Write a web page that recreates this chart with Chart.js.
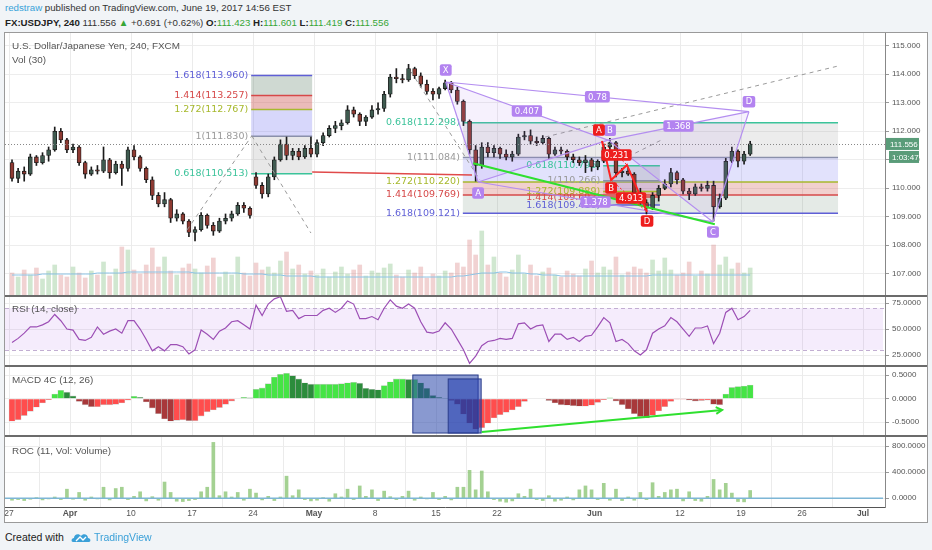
<!DOCTYPE html>
<html><head><meta charset="utf-8">
<script src="https://cdn.jsdelivr.net/npm/chart.js@4.4.1/dist/chart.umd.min.js"></script>
<style>
html,body{margin:0;padding:0;}
body{width:932px;height:550px;background:#f1f4f7;position:relative;overflow:hidden;font-family:"Liberation Sans",Arial,sans-serif;}
.hd{position:absolute;left:5px;white-space:nowrap;font-size:9.7px;color:#333;line-height:12px;}
#h1{top:2px;}
#h2{top:17px;}
#h2 b{font-weight:bold;color:#222;}
.g{color:#37a636;}
#frame{position:absolute;left:4px;top:32px;width:922px;height:489px;border:1px solid #9a9a9a;background:#fff;}
canvas{position:absolute;left:5px;}
.sep{position:absolute;left:5px;width:922px;height:2px;background:#6b6b6b;}
.ttl{position:absolute;left:12px;font-size:9.9px;color:#555;white-space:nowrap;line-height:11px;}
#foot{position:absolute;left:5px;top:531px;font-size:10.5px;color:#222;white-space:nowrap;line-height:12px;}
#foot .tv{color:#3ba0d8;}
</style>
</head><body>
<div id="h1" class="hd"><span style="color:#38a2d9">redstraw</span> published on TradingView.com, June 19, 2017 14:56 EST</div>
<div id="h2" class="hd"><b>FX:USDJPY, 240</b> 111.556 <span class="g">&#9650;</span> +0.691 (+0.62%) <b>O:</b><span class="g">111.423</span> <b>H:</b><span class="g">111.601</span> <b>L:</b><span class="g">111.419</span> <b>C:</b><span class="g">111.556</span></div>
<div id="frame"></div>
<canvas id="cMain" width="922" height="262" style="top:33px;width:922px;height:262px"></canvas>
<div class="sep" style="top:295px"></div>
<canvas id="cRsi" width="922" height="68" style="top:297px;width:922px;height:68px"></canvas>
<div class="sep" style="top:365px"></div>
<canvas id="cMacd" width="922" height="68" style="top:367px;width:922px;height:68px"></canvas>
<div class="sep" style="top:435px"></div>
<canvas id="cRoc" width="922" height="85" style="top:437px;width:922px;height:85px"></canvas>
<div class="ttl" style="top:40px">U.S. Dollar/Japanese Yen, 240, FXCM</div>
<div class="ttl" style="top:54px">Vol (30)</div>
<div class="ttl" style="top:303px">RSI (14, close)</div>
<div class="ttl" style="top:374px">MACD 4C (12, 26)</div>
<div class="ttl" style="top:445px">ROC (11, Vol: Volume)</div>
<div id="foot">Created with <svg width="20" height="12" viewBox="0 0 20 12" style="vertical-align:-2px;margin:0 3px 0 4px"><path d="M2 11 C0 11 0 7 3 7 C3 3 8 2 10 5 C12 2 17 3 17 7 C20 7 20 11 18 11 Z" fill="#3ba0d8"/><path d="M5 10 L9 6 L12 9 L15 6" stroke="#fff" stroke-width="1.3" fill="none"/></svg><span class="tv">TradingView</span></div>
<script>
// ---------- DATA (half-day candles, slot index from Mon 27 Mar 2017) ----------
const opens  = [110.9,110.35,110.6,110.5,111.1,110.9,111.15,111.35,112.0,111.7,
111.35,111.45,110.9,110.5,110.65,110.6,111.0,110.55,110.85,110.7,
111.35,111.1,110.7,110.3,109.75,109.45,109.6,108.95,109.1,108.85,
108.45,108.55,109.05,108.7,108.5,108.85,108.95,109.1,109.4,109.3,
110.4,110.1,109.8,110.4,111.0,111.55,111.15,111.3,111.1,111.4,
111.2,111.6,111.85,112.1,112.2,112.3,112.75,112.6,112.35,112.5,
112.75,112.8,113.3,113.9,113.85,113.8,114.2,113.95,113.65,113.4,
113.3,113.5,113.7,113.45,113.05,112.35,111.35,110.8,111.45,111.25,
111.4,111.2,111.1,111.2,111.8,111.85,111.65,111.6,111.75,111.2,
111.35,111.3,111.1,111.0,110.9,111.0,110.75,110.95,111.45,111.6,
110.55,110.6,110.5,109.85,109.5,109.3,109.75,110.0,110.15,110.55,
110.3,109.9,109.8,110.05,110.0,110.1,109.35,109.65,110.95,111.3,
110.95,111.2];
const highs  = [111.0,110.7,110.75,111.2,111.15,111.25,111.45,112.15,112.1,111.75,
111.55,111.5,110.95,110.75,110.8,111.45,111.05,110.95,110.95,111.45,
111.5,111.15,110.75,110.4,109.85,109.85,109.65,109.25,109.15,108.9,
108.65,109.15,109.1,108.8,108.95,109.1,109.2,109.5,109.5,109.35,
110.55,110.2,110.5,111.1,111.7,111.8,111.4,111.4,111.5,111.8,
111.7,111.95,112.2,112.35,112.4,112.9,112.85,112.65,112.55,112.9,
113.0,113.4,114.0,114.2,114.0,114.35,114.25,114.05,113.8,113.5,
113.55,113.8,113.75,113.55,113.1,112.4,111.5,111.6,111.6,111.5,
111.45,111.35,111.3,111.9,112.0,112.05,111.8,111.85,111.8,111.45,
111.45,111.35,111.2,111.1,111.15,111.05,111.0,111.55,111.75,111.65,
110.7,110.7,110.55,110.0,109.6,109.85,110.1,110.3,110.7,110.6,
110.35,110.0,110.15,110.15,110.25,110.25,109.8,111.05,111.45,111.35,
111.3,111.65];
const lows   = [110.25,110.2,110.25,110.45,110.8,110.85,110.95,111.3,111.6,111.25,
111.25,110.8,110.35,110.45,110.5,110.55,110.35,110.5,110.1,110.6,
111.0,110.6,110.2,109.6,109.35,109.35,108.8,108.85,108.75,108.3,
108.15,108.5,108.6,108.35,108.45,108.75,108.85,109.05,109.15,108.95,
110.0,109.65,109.7,110.3,110.95,111.0,111.0,111.0,111.05,111.1,
111.1,111.5,111.8,111.95,112.05,112.25,112.5,112.2,112.2,112.45,
112.6,112.7,113.2,113.7,113.7,113.75,113.85,113.55,113.3,113.1,
113.15,113.45,113.35,112.95,112.2,111.2,110.25,110.7,111.1,111.1,
111.05,111.0,110.95,111.15,111.7,111.55,111.5,111.55,111.05,111.15,
111.2,111.0,110.9,110.8,110.55,110.6,110.65,110.9,111.35,110.4,
110.4,110.45,109.7,109.4,109.1,109.25,109.55,109.95,110.05,110.15,
109.8,109.6,109.75,109.9,109.9,108.85,109.3,109.6,110.9,110.75,
110.85,111.15];
const closes = [110.35,110.6,110.5,111.1,110.9,111.15,111.35,112.0,111.7,111.35,
111.45,110.9,110.5,110.65,110.6,111.0,110.55,110.85,110.7,111.35,
111.1,110.7,110.3,109.75,109.45,109.6,108.95,109.1,108.85,108.45,
108.55,109.05,108.7,108.5,108.85,108.95,109.1,109.4,109.3,109.05,
110.1,109.8,110.4,111.0,111.55,111.15,111.3,111.1,111.4,111.2,
111.6,111.85,112.1,112.2,112.3,112.75,112.6,112.35,112.5,112.75,
112.8,113.3,113.9,113.85,113.8,114.2,113.95,113.65,113.4,113.3,
113.5,113.7,113.45,113.05,112.35,111.35,110.8,111.45,111.25,111.4,
111.2,111.1,111.2,111.8,111.85,111.65,111.6,111.75,111.2,111.35,
111.3,111.1,111.0,110.9,111.0,110.75,110.95,111.45,111.6,110.55,
110.6,110.5,109.85,109.5,109.3,109.75,110.0,110.15,110.55,110.3,
109.9,109.8,110.05,110.0,110.1,109.35,109.65,110.95,111.3,110.95,
111.2,111.556];
const volumes = [22,18,25,20,27,16,24,30,20,18, 28,22,17,24,20,33,19,26,48,45,
25,21,30,47,28,38,24,20,27,31, 26,22,29,37,18,23,20,38,22,19,
32,25,28,22,34,43,26,30,21,24, 20,26,18,23,28,21,25,30,19,24,
22,27,31,20,18,25,22,28,17,21, 19,24,22,32,28,55,40,64,30,38,
22,18,25,40,21,30,19,23,27,20, 18,24,21,19,26,34,22,28,25,38,
20,23,28,26,22,35,24,37,25,20, 22,33,19,24,21,50,30,38,26,32, 22,27];
const volMA = [20,20,20,20,20,21,21,21,21,21, 21,21,21,21,22,22,22,22,22,23,
23,23,23,23,23,23,23,23,23,23, 22,22,22,22,22,22,22,22,21,21,
21,21,20,20,20,19,19,19,19,19, 18,18,18,18,18,18,18,18,18,18,
18,18,18,18,18,18,18,18,18,18, 18,18,18,19,19,20,21,22,22,22,
23,23,22,22,22,21,21,20,20,20, 19,19,19,19,19,19,19,19,19,19,
19,19,19,19,19,20,20,20,20,20, 20,20,20,20,20,20,20,20,20,20, 20,20];
const rsi = [37,41,46,52,52,54,57,64,58,50, 49,40,39,42,52,45,48,50,46,58,
58,50,40,29,33,29,35,35,33,26, 30,49,45,40,48,51,57,58,54,50,
73,63,74,79,81,67,68,60,63,63, 63,68,70,66,70,77,74,60,60,62,
59,70,78,72,70,74,70,57,47,46, 48,56,50,40,30,17,24,34,38,39,
41,40,41,55,56,50,53,54,38,45, 45,40,42,38,43,44,52,61,56,38,
40,36,29,25,30,46,50,53,61,57, 50,43,51,51,53,36,46,66,70,59, 62,68];
const macdHist = [-0.48,-0.45,-0.36,-0.27,-0.18,-0.09,-0.02,0.10,0.18,0.14,
0.06,-0.06,-0.13,-0.17,-0.17,-0.13,-0.13,-0.12,-0.09,-0.03,
0.05,0.03,-0.07,-0.20,-0.32,-0.43,-0.48,-0.46,-0.45,-0.47,
-0.47,-0.37,-0.28,-0.24,-0.19,-0.12,-0.05,0.0,0.03,0.02,
0.20,0.23,0.32,0.46,0.52,0.54,0.49,0.42,0.34,0.31,
0.31,0.31,0.31,0.31,0.32,0.34,0.35,0.33,0.22,0.20,
0.19,0.28,0.36,0.42,0.42,0.41,0.41,0.34,0.22,0.07,
0.03,0.01,-0.04,-0.12,-0.33,-0.52,-0.65,-0.62,-0.52,-0.41,
-0.34,-0.29,-0.24,-0.17,-0.06,0.0,0.0,0.0,-0.04,-0.09,
-0.13,-0.14,-0.15,-0.16,-0.16,-0.14,-0.08,-0.02,0.02,-0.05,
-0.13,-0.22,-0.32,-0.38,-0.41,-0.35,-0.26,-0.17,-0.06,-0.01,
-0.01,-0.03,-0.05,-0.04,-0.03,-0.12,-0.13,0.10,0.24,0.26, 0.27,0.29];
const rocVol = [-30,-20,-35,-15,10,-25,-10,20,-20,140, -15,90,-30,20,-10,170,-25,150,170,-20,
30,100,-40,25,-30,250,90,-45,-50,-35, -20,100,170,860,40,100,20,90,-30,140,
80,-25,30,-35,20,340,40,130,-20,-40, -30,10,-45,70,20,140,-20,190,30,130,
-35,110,25,-20,30,110,-30,20,-10,90, -20,30,-25,170,170,430,130,420,100,-20,
-45,-60,-40,70,30,140,-20,-35,40,-45, -30,20,-25,130,190,130,-20,230,-30,140,
-35,20,-30,90,-20,240,30,90,130,140, -40,100,-35,-45,30,290,130,230,80,-50, -55,120];
const lastPrice = 111.556;
const countdown = '1:03:47';

// time axis (slot units; 2 slots per trading day)
const timeTickValues = [0,10,20,30,40,50,60,70,80,96,110,120,130,140];
const timeTickLabels = ['27','Apr','10','17','24','May','8','15','22','Jun','12','19','26','Jul'];
const monthTickIdx = [1,5,9,13];
const priceTicks = [107,108,109,110,111,112,113,114,115];
const rsiTicks = [25,50,75];
const macdTicks = [-0.5,0,0.5];
const rocTicks = [0,400,800];

// drawings (time in slot units, price in JPY); level order follows fibRatios
const fibRatios = ['1.618','1.414','1.272','1','0.618'];
const fibLeftSpan = [39.7,49.7];
const fibLeftLevels = [113.960,113.257,112.767,111.830,110.513];
const fibMidSpan = [74.4,135.9];
const fibMidLevels = [109.121,109.769,110.220,111.084,112.298];
const fibSmallSpan = [97.4,106.7];
const fibSmallLevels = [109.410,109.693,109.889,110.266,110.795];
const redLineTime = [49.7,75.9], redLinePrice = [110.57,110.47];
const dashedTimes = [[29.2,39.8],[39.8,49.5],[65.9,77.2],[87.9,135.9],[101.5,107.0]];
const dashedPrices = [[108.54,111.84],[111.84,108.43],[114.09,110.29],[111.80,114.29],[111.11,111.70]];
const greenTime = [76.1,115.7], greenPrice = [110.88,108.74];
const xabcdNames = ['X','A','B','C','D'];
const xabcdTime = [71.6,76.9,98.2,115.4,121.3];
const xabcdPrice = [113.73,110.22,111.69,108.82,112.69];
const xabcdRatios = ['0.407','0.78','1.368','1.378']; // XB, XD, BD, AC
const abcdNames = ['A','B','C','D'];
const abcdTime = [97.2,98.7,101.3,104.6];
const abcdPrice = [111.66,110.29,110.82,109.17];
const abcdRatios = ['0.231','4.913']; // AC, BD
const macdArrowTime = [77.5,116.9], macdArrowValue = [-0.708,-0.24];
const macdBoxTimes = [[66.2,76.9],[72.0,77.4]];
const macdBoxValues = [[0.504,-0.73],[0.42,-0.73]];

// ---------- RENDERING ----------
const F = '"Liberation Sans", Arial, sans-serif';
const FD = '"DejaVu Sans", sans-serif';
const XMIN = -0.65, XMAX = 143.6;
const xs = closes.map((_, i) => i + 0.5);
const up = closes.map((c, i) => c >= opens[i]);

function baseOpts(){ return {responsive:false, animation:false, events:[], layout:{padding:0},
  plugins:{legend:{display:false}, tooltip:{enabled:false}}}; }
function xHidden(){ return {type:'linear', min:XMIN, max:XMAX, offset:false, display:false}; }
function yAxis(min, max, ticks, dec){
  return {position:'right', min, max,
    afterBuildTicks: s => { s.ticks = ticks.map(v => ({value:v})); },
    ticks:{callback: v => Number(v).toFixed(dec), color:'#555', font:{size:8, family:F}, padding:3},
    grid:{color:'#ededed', tickColor:'#999', tickLength:4},
    border:{color:'#888'},
    afterFit: s => { s.width = 42; s.paddingTop = 0; s.paddingBottom = 0; }};
}
const vgrid = {id:'vgrid', beforeDatasetsDraw(chart){
  if (chart.options.scales.x.display) return;
  const {ctx, chartArea:a, scales:{x}} = chart;
  ctx.save(); ctx.strokeStyle = '#ebebeb'; ctx.lineWidth = 1;
  timeTickValues.forEach(v => { const px = Math.round(x.getPixelForValue(v)) + 0.5;
    ctx.beginPath(); ctx.moveTo(px, a.top); ctx.lineTo(px, a.bottom); ctx.stroke(); });
  ctx.restore();
}};
function line(ctx, x1, y1, x2, y2){ ctx.beginPath(); ctx.moveTo(x1, y1); ctx.lineTo(x2, y2); ctx.stroke(); }
function tag(ctx, text, cx, cy, bg, size){
  ctx.font = size + 'px ' + FD;
  const w = ctx.measureText(text).width + 6, h = size + 3;
  ctx.fillStyle = bg; ctx.beginPath(); ctx.roundRect(cx - w/2, cy - h/2, w, h, 2); ctx.fill();
  ctx.fillStyle = '#fff'; ctx.textAlign = 'center'; ctx.textBaseline = 'middle';
  ctx.fillText(text, cx, cy + 0.5);
}
const fibColor = {'1.618':'#5f5fd6','1.414':'#d64848','1.272':'#a7b92d','1':'#9a9a9a','0.618':'#3bc39a'};
const fibLine = {'1.618':'#5f5fd6','1.414':'#d64848','1.272':'#a7b92d','1':'#8a90aa','0.618':'#3bc39a'};
const bandFill = ['rgba(95,130,105,A)','rgba(205,85,80,A)','rgba(110,110,240,A)','rgba(140,140,140,A)'];
function drawFib(ctx, x, y, span, levels, alpha){
  const x1 = x.getPixelForValue(span[0]), x2 = x.getPixelForValue(span[1]);
  for (let k = 0; k < 4; k++){
    const ya = y.getPixelForValue(levels[k]), yb = y.getPixelForValue(levels[k+1]);
    ctx.fillStyle = bandFill[k].replace('A', alpha[k]);
    ctx.fillRect(x1, Math.min(ya,yb), x2 - x1, Math.abs(yb - ya));
  }
  ctx.lineWidth = 1.5;
  fibRatios.forEach((r, i) => { const py = y.getPixelForValue(levels[i]);
    ctx.strokeStyle = fibLine[r]; line(ctx, x1, py, x2, py);
    ctx.font = '9.5px ' + FD; ctx.fillStyle = fibColor[r]; ctx.textAlign = 'right'; ctx.textBaseline = 'middle';
    ctx.fillText(r + '(' + levels[i].toFixed(3) + ')', x1 - 3, py); });
}
const mainDraw = {id:'mainDraw',
  beforeDatasetsDraw(chart){
    const {ctx, scales:{x, y}} = chart; ctx.save();
    drawFib(ctx, x, y, fibLeftSpan, fibLeftLevels, [0.3,0.4,0.28,0.2]);
    drawFib(ctx, x, y, fibMidSpan, fibMidLevels, [0.17,0.28,0.2,0.17]);
    drawFib(ctx, x, y, fibSmallSpan, fibSmallLevels, [0.2,0.25,0.2,0.25]);
    ctx.restore();
  },
  afterDatasetsDraw(chart){
    const {ctx, chartArea:a, scales:{x, y}} = chart; ctx.save();
    const P = (t, p) => [x.getPixelForValue(t), y.getPixelForValue(p)];
    ctx.strokeStyle = '#888'; ctx.lineWidth = 1; ctx.setLineDash([1,2]);
    const lp = Math.round(y.getPixelForValue(lastPrice)) + 0.5; line(ctx, a.left, lp, a.right, lp);
    ctx.strokeStyle = '#9a9a9a'; ctx.setLineDash([4,4]);
    dashedTimes.forEach((t, i) => { const p1 = P(t[0], dashedPrices[i][0]), p2 = P(t[1], dashedPrices[i][1]); line(ctx, p1[0], p1[1], p2[0], p2[1]); });
    ctx.setLineDash([]);
    ctx.strokeStyle = '#e04a4a'; ctx.lineWidth = 1.5;
    let p1 = P(redLineTime[0], redLinePrice[0]), p2 = P(redLineTime[1], redLinePrice[1]); line(ctx, p1[0], p1[1], p2[0], p2[1]);
    const pts = xabcdTime.map((t, i) => P(t, xabcdPrice[i]));
    ctx.fillStyle = 'rgba(170,120,240,0.10)';
    [[0,1,2],[2,3,4]].forEach(tr => { ctx.beginPath(); ctx.moveTo(...pts[tr[0]]); ctx.lineTo(...pts[tr[1]]); ctx.lineTo(...pts[tr[2]]); ctx.closePath(); ctx.fill(); });
    ctx.strokeStyle = '#b48ef0'; ctx.lineWidth = 1.2;
    [[0,1],[1,2],[2,3],[3,4],[0,2],[0,4],[2,4],[1,3]].forEach(e => line(ctx, ...pts[e[0]], ...pts[e[1]]));
    ctx.strokeStyle = '#2fe02f'; ctx.lineWidth = 2;
    p1 = P(greenTime[0], greenPrice[0]); p2 = P(greenTime[1], greenPrice[1]); line(ctx, p1[0], p1[1], p2[0], p2[1]);
    const rp = abcdTime.map((t, i) => P(t, abcdPrice[i]));
    ctx.strokeStyle = '#f22'; ctx.lineWidth = 2;
    ctx.beginPath(); ctx.moveTo(...rp[0]); ctx.lineTo(...rp[1]); ctx.lineTo(...rp[2]); ctx.lineTo(...rp[3]); ctx.stroke();
    ctx.lineWidth = 1; ctx.setLineDash([2,2]);
    line(ctx, ...rp[0], ...rp[2]); line(ctx, ...rp[1], ...rp[3]); ctx.setLineDash([]);
    const PUR = '#b383f0', RED = '#ee1d1d';
    const mid = (i, j) => [(pts[i][0] + pts[j][0]) / 2, (pts[i][1] + pts[j][1]) / 2];
    [[0,2],[0,4],[2,4],[1,3]].forEach((e, k) => { const m = mid(e[0], e[1]); tag(ctx, xabcdRatios[k], m[0], m[1], PUR, 8.5); });
    const pOff = [-12, 11, -10, 10, -10];
    pts.forEach((p, i) => tag(ctx, xabcdNames[i], p[0] + (i===2?2:0), p[1] + pOff[i], PUR, 8.5));
    const rm = (i, j) => [(rp[i][0] + rp[j][0]) / 2 + 2, (rp[i][1] + rp[j][1]) / 2 + 2];
    let m = rm(0, 2); tag(ctx, abcdRatios[0], m[0], m[1], RED, 8.5);
    m = rm(1, 3); tag(ctx, abcdRatios[1], m[0], m[1], RED, 8.5);
    const rOff = [-11, 8, 0, 9];
    [0,1,3].forEach(i => tag(ctx, abcdNames[i], rp[i][0] - (i===0?3:0), rp[i][1] + rOff[i], RED, 8.5));
    ctx.restore();
  },
  afterDraw(chart){
    const {ctx, chartArea:a, scales:{y}} = chart; ctx.save();
    const py = y.getPixelForValue(lastPrice);
    ctx.fillStyle = '#5a9c79'; ctx.fillRect(a.right + 1, py - 6, 33, 12);
    ctx.fillRect(a.right + 4, py + 7, 30, 12);
    ctx.fillStyle = '#fff'; ctx.font = '8px ' + F; ctx.textAlign = 'left'; ctx.textBaseline = 'middle';
    ctx.fillText(lastPrice.toFixed(3), a.right + 5, py + 0.5);
    ctx.fillText(countdown, a.right + 7, py + 13.5);
    ctx.restore();
  }
};
new Chart(document.getElementById('cMain'), {
  type:'bar',
  data:{datasets:[
    {type:'bar', data: xs.map((x, i) => ({x, y:[opens[i], closes[i]]})), backgroundColor: up.map(u => u ? '#3f5b50' : '#8e3a32'),
      borderColor:'#1b1b1b', borderWidth:0.8, borderSkipped:false, barThickness:4, grouped:false, order:1},
    {type:'bar', data: xs.map((x, i) => ({x, y:[lows[i], highs[i]]})), backgroundColor:'#1b1b1b', barThickness:1, grouped:false, order:2},
    {type:'bar', yAxisID:'yv', data: xs.map((x, i) => ({x, y:volumes[i]})), backgroundColor: up.map(u => u ? 'rgba(120,185,120,0.35)' : 'rgba(215,125,125,0.35)'),
      barThickness:4, grouped:false, order:4},
    {type:'line', yAxisID:'yv', data: xs.map((x, i) => ({x, y:volMA[i]})), borderColor:'#8cc4e6', borderWidth:1, pointRadius:0, order:3}
  ]},
  options: Object.assign(baseOpts(), {scales:{
    x: xHidden(),
    y: yAxis(106.256, 115.449, priceTicks, 3),
    yv: {display:false, min:0, max:262}
  }}),
  plugins:[vgrid, mainDraw]
});

const rsiDraw = {id:'rsiDraw', beforeDatasetsDraw(chart){
  const {ctx, chartArea:a, scales:{y}} = chart; ctx.save();
  const y70 = y.getPixelForValue(70), y30 = y.getPixelForValue(30);
  ctx.fillStyle = 'rgba(175,110,235,0.13)'; ctx.fillRect(a.left, y70, a.right - a.left - 2, y30 - y70);
  ctx.strokeStyle = '#c2aed2'; ctx.setLineDash([4,3]); ctx.lineWidth = 1;
  line(ctx, a.left, Math.round(y70)+0.5, a.right, Math.round(y70)+0.5); line(ctx, a.left, Math.round(y30)+0.5, a.right, Math.round(y30)+0.5);
  ctx.restore();
}};
new Chart(document.getElementById('cRsi'), {
  type:'line',
  data:{datasets:[{data: xs.map((x, i) => ({x, y:rsi[i]})), borderColor:'#9c4fb5', borderWidth:1.2, pointRadius:0, tension:0}]},
  options: Object.assign(baseOpts(), {scales:{x: xHidden(), y: yAxis(15.4, 80.8, rsiTicks, 4)}}),
  plugins:[vgrid, rsiDraw]
});

const macdColors = macdHist.map((h, i) => {
  const prev = i > 0 ? macdHist[i-1] : h;
  if (h >= 0) return h >= prev ? '#45e445' : '#2c8c3c';
  return h < prev ? '#a8383a' : '#ff4d4d';
});
const macdDraw = {id:'macdDraw', afterDatasetsDraw(chart){
  const {ctx, scales:{x, y}} = chart; ctx.save();
  const fills = ['rgba(40,70,170,0.55)', 'rgba(35,60,175,0.55)'];
  macdBoxTimes.forEach((t, i) => {
    const x1 = x.getPixelForValue(t[0]), x2 = x.getPixelForValue(t[1]);
    const y1 = y.getPixelForValue(macdBoxValues[i][0]), y2 = y.getPixelForValue(macdBoxValues[i][1]);
    ctx.fillStyle = fills[i]; ctx.fillRect(x1, y1, x2 - x1, y2 - y1);
    ctx.strokeStyle = '#2a3d8c'; ctx.lineWidth = 1; ctx.strokeRect(x1, y1, x2 - x1, y2 - y1);
  });
  const ax1 = x.getPixelForValue(macdArrowTime[0]), ay1 = y.getPixelForValue(macdArrowValue[0]);
  const ax2 = x.getPixelForValue(macdArrowTime[1]), ay2 = y.getPixelForValue(macdArrowValue[1]);
  ctx.strokeStyle = '#2fe02f'; ctx.lineWidth = 2; line(ctx, ax1, ay1, ax2, ay2);
  const ang = Math.atan2(ay2 - ay1, ax2 - ax1);
  ctx.beginPath(); ctx.moveTo(ax2 - 7*Math.cos(ang - 0.5), ay2 - 7*Math.sin(ang - 0.5)); ctx.lineTo(ax2, ay2);
  ctx.lineTo(ax2 - 7*Math.cos(ang + 0.5), ay2 - 7*Math.sin(ang + 0.5)); ctx.stroke();
  ctx.restore();
}};
new Chart(document.getElementById('cMacd'), {
  type:'bar',
  data:{datasets:[{data: xs.map((x, i) => ({x, y:macdHist[i]})), backgroundColor: macdColors, borderColor:'rgba(0,0,0,0.18)', borderWidth:0.6,
    barPercentage:1, categoryPercentage:1, grouped:false}]},
  options: Object.assign(baseOpts(), {scales:{x: xHidden(), y: yAxis(-0.772, 0.674, macdTicks, 4)}}),
  plugins:[vgrid, macdDraw]
});

const rocDraw = {id:'rocDraw', afterDatasetsDraw(chart){
  const {ctx, chartArea:a, scales:{y}} = chart; ctx.save();
  const py = y.getPixelForValue(0);
  ctx.strokeStyle = '#7db6d6'; ctx.lineWidth = 1.5; line(ctx, a.left, py, a.right - 2, py);
  ctx.restore();
}};
new Chart(document.getElementById('cRoc'), {
  type:'bar',
  data:{datasets:[{data: xs.map((x, i) => ({x, y:rocVol[i]})), backgroundColor:'rgba(125,190,100,0.7)', barThickness:3, grouped:false}]},
  options: Object.assign(baseOpts(), {scales:{
    x: {type:'linear', min:XMIN, max:XMAX, offset:false,
      afterBuildTicks: s => { s.ticks = timeTickValues.map(v => ({value:v})); },
      ticks:{autoSkip:false, maxRotation:0, padding:2, color:'#555',
        callback: (v, i) => timeTickLabels[i],
        font: c => ({size:8.5, family:F, weight: monthTickIdx.includes(c.index) ? 'bold' : 'normal'})},
      grid:{color:'#ebebeb', drawTicks:false}, border:{color:'#555'},
      afterFit: s => { s.height = 15; s.paddingLeft = 0; s.paddingRight = 0; }},
    y: yAxis(-134, 943, rocTicks, 4)
  }}),
  plugins:[rocDraw]
});
</script>
</body></html>
